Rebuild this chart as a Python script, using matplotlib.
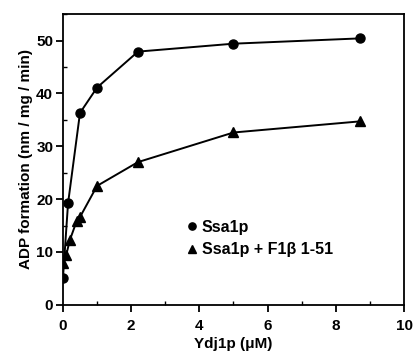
import matplotlib
matplotlib.use("Agg")
import matplotlib.pyplot as plt
from matplotlib.ticker import MultipleLocator

plt.rcParams['font.family'] = ['Liberation Sans', 'DejaVu Sans']
plt.rcParams['font.weight'] = 'bold'

# Ssa1p alone
x_ssa = [0, 0.15, 0.5, 1.0, 2.2, 5.0, 8.7]
y_ssa = [5.0, 19.2, 36.3, 41.1, 47.9, 49.4, 50.4]
# Ssa1p + F1beta 1-51
x_f1b = [0, 0.1, 0.2, 0.4, 0.5, 1.0, 2.2, 5.0, 8.7]
y_f1b = [7.9, 9.5, 12.2, 15.8, 16.6, 22.5, 27.0, 32.6, 34.7]

fig = plt.figure(figsize=(4.14, 3.52), dpi=100)
ax = fig.add_axes([0.152, 0.134, 0.824, 0.826])

ax.plot(x_ssa, y_ssa, '-o', color='black', lw=1.4, ms=6.5, label='Ssa1p')
ax.plot(x_f1b, y_f1b, '-^', color='black', lw=1.4, ms=6.5,
        label='Ssa1p + F1\u03b2 1-51')

ax.set_xlim(0, 10)
ax.set_ylim(0, 55)
ax.xaxis.set_major_locator(MultipleLocator(2))
ax.xaxis.set_minor_locator(MultipleLocator(1))
ax.yaxis.set_major_locator(MultipleLocator(10))
ax.yaxis.set_minor_locator(MultipleLocator(5))
ax.tick_params(which='major', direction='out', length=5, width=1.3,
               labelsize=11, pad=2)
ax.tick_params(axis='x', which='major', pad=5)
ax.tick_params(which='minor', direction='in', length=3, width=1.0)
for s in ax.spines.values():
    s.set_linewidth(1.3)

ax.set_xlabel("Ydj1p (\u03bcM)", fontsize=11, fontweight='bold', labelpad=3)
ax.set_ylabel("ADP formation (nm / mg / min)", fontsize=11,
              fontweight='bold', labelpad=2)

leg = ax.legend(loc='upper left', bbox_to_anchor=(0.335, 0.33),
                frameon=False, handlelength=0.5, handletextpad=0.35,
                labelspacing=0.45, fontsize=11.5, markerscale=0.8,
                borderpad=0.2)
for h in leg.legend_handles:
    h.set_linestyle('none')

fig.savefig("out.png", dpi=100)
